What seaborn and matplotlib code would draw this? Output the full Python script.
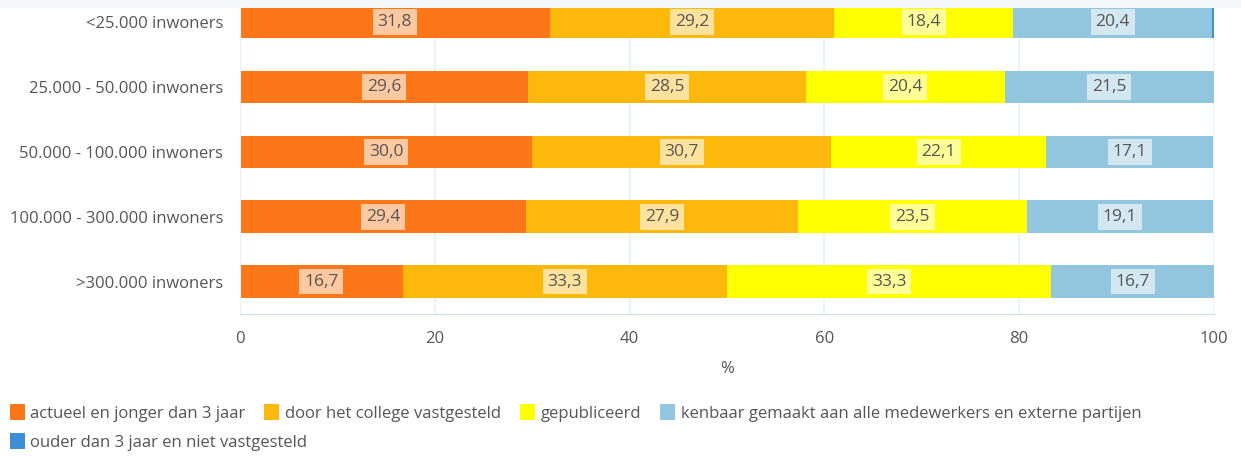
import numpy as np
import pandas as pd
import seaborn as sns
import matplotlib.pyplot as plt
from matplotlib.patches import Patch, Rectangle

# Categorieën en waarden (percentages)
categorieen = ['<25.000 inwoners', '25.000 - 50.000 inwoners', '50.000 - 100.000 inwoners',
               '100.000 - 300.000 inwoners', '>300.000 inwoners']
actueel = [31.8, 29.6, 30.0, 29.4, 16.7]
college = [29.2, 28.5, 30.7, 27.9, 33.3]
gepubliceerd = [18.4, 20.4, 22.1, 23.5, 33.3]
kenbaar = [20.4, 21.5, 17.1, 19.1, 16.7]
ouder = [0.2, 0.0, 0.0, 0.0, 0.0]

reeksen = ['actueel en jonger dan 3 jaar', 'door het college vastgesteld', 'gepubliceerd',
           'kenbaar gemaakt aan alle medewerkers en externe partijen',
           'ouder dan 3 jaar en niet vastgesteld']
kleuren = ['#fd7617', '#fdb90b', '#ffff00', '#92c5de', '#3f8fd6']

df = pd.DataFrame({'categorie': categorieen, reeksen[0]: actueel, reeksen[1]: college,
                   reeksen[2]: gepubliceerd, reeksen[3]: kenbaar, reeksen[4]: ouder})
cum = df[reeksen].cumsum(axis=1)

sns.set_style('white')
plt.rcParams['font.family'] = ['Open Sans', 'DejaVu Sans']

fig = plt.figure(figsize=(12.41, 4.58), dpi=100)
ax = fig.add_axes([240 / 1241, 1 - 314 / 458, (1214 - 240) / 1241, (314 + 10.5) / 458])

# gestapelde balken: van achter naar voren tekenen
for reeks, kleur in reversed(list(zip(reeksen, kleuren))):
    sns.barplot(x=cum[reeks], y=df['categorie'], orient='h', color=kleur,
                width=0.5, ax=ax, saturation=1, linewidth=0, zorder=2)

# waardelabels
for i in range(len(categorieen)):
    links = 0
    for reeks in reeksen[:4]:
        w = df[reeks][i]
        ax.text(links + w / 2, i, f'{w:.1f}'.replace('.', ','), ha='center', va='center',
                fontsize=12.5, color='#555555', zorder=5,
                bbox=dict(boxstyle='square,pad=0.28', facecolor='white', alpha=0.6, edgecolor='none'))
        links += w

ax.set_xlim(0, 100)
ax.set_xticks([0, 20, 40, 60, 80, 100])
ax.grid(axis='x', color='#e2f2f7', linewidth=1.2, zorder=0)
ax.set_axisbelow(True)
ax.set_ylabel('')
ax.set_xlabel('%', fontsize=12, color='#555555', labelpad=10)
ax.tick_params(axis='both', length=0, labelsize=12, labelcolor='#555555')
ax.tick_params(axis='x', pad=12)
ax.tick_params(axis='y', pad=12)
for s in ['top', 'right']:
    ax.spines[s].set_visible(False)
ax.spines['left'].set_color('#e2f2f7')
ax.spines['bottom'].set_color('#ccdde8')

# legenda in twee rijen
handles = [Patch(facecolor=k, edgecolor='none') for k in kleuren]
opts = dict(frameon=False, fontsize=12, labelcolor='#555555', handlelength=0.9,
            handleheight=1.1, handletextpad=0.35, columnspacing=1.12, borderaxespad=0)
leg1 = fig.legend(handles[:4], reeksen[:4], ncol=4, loc='center left',
                  bbox_to_anchor=(3 / 1241, 1 - 413 / 458), **opts)
leg2 = fig.legend(handles[4:], reeksen[4:], ncol=1, loc='center left',
                  bbox_to_anchor=(3 / 1241, 1 - 442 / 458), **opts)

# grijze strook bovenaan
fig.add_artist(Rectangle((0, 1 - 8 / 458), 1, 8 / 458, transform=fig.transFigure,
                         facecolor='#f5f6f8', edgecolor='none', zorder=10))

fig.savefig('out.png', dpi=100, facecolor='white')
